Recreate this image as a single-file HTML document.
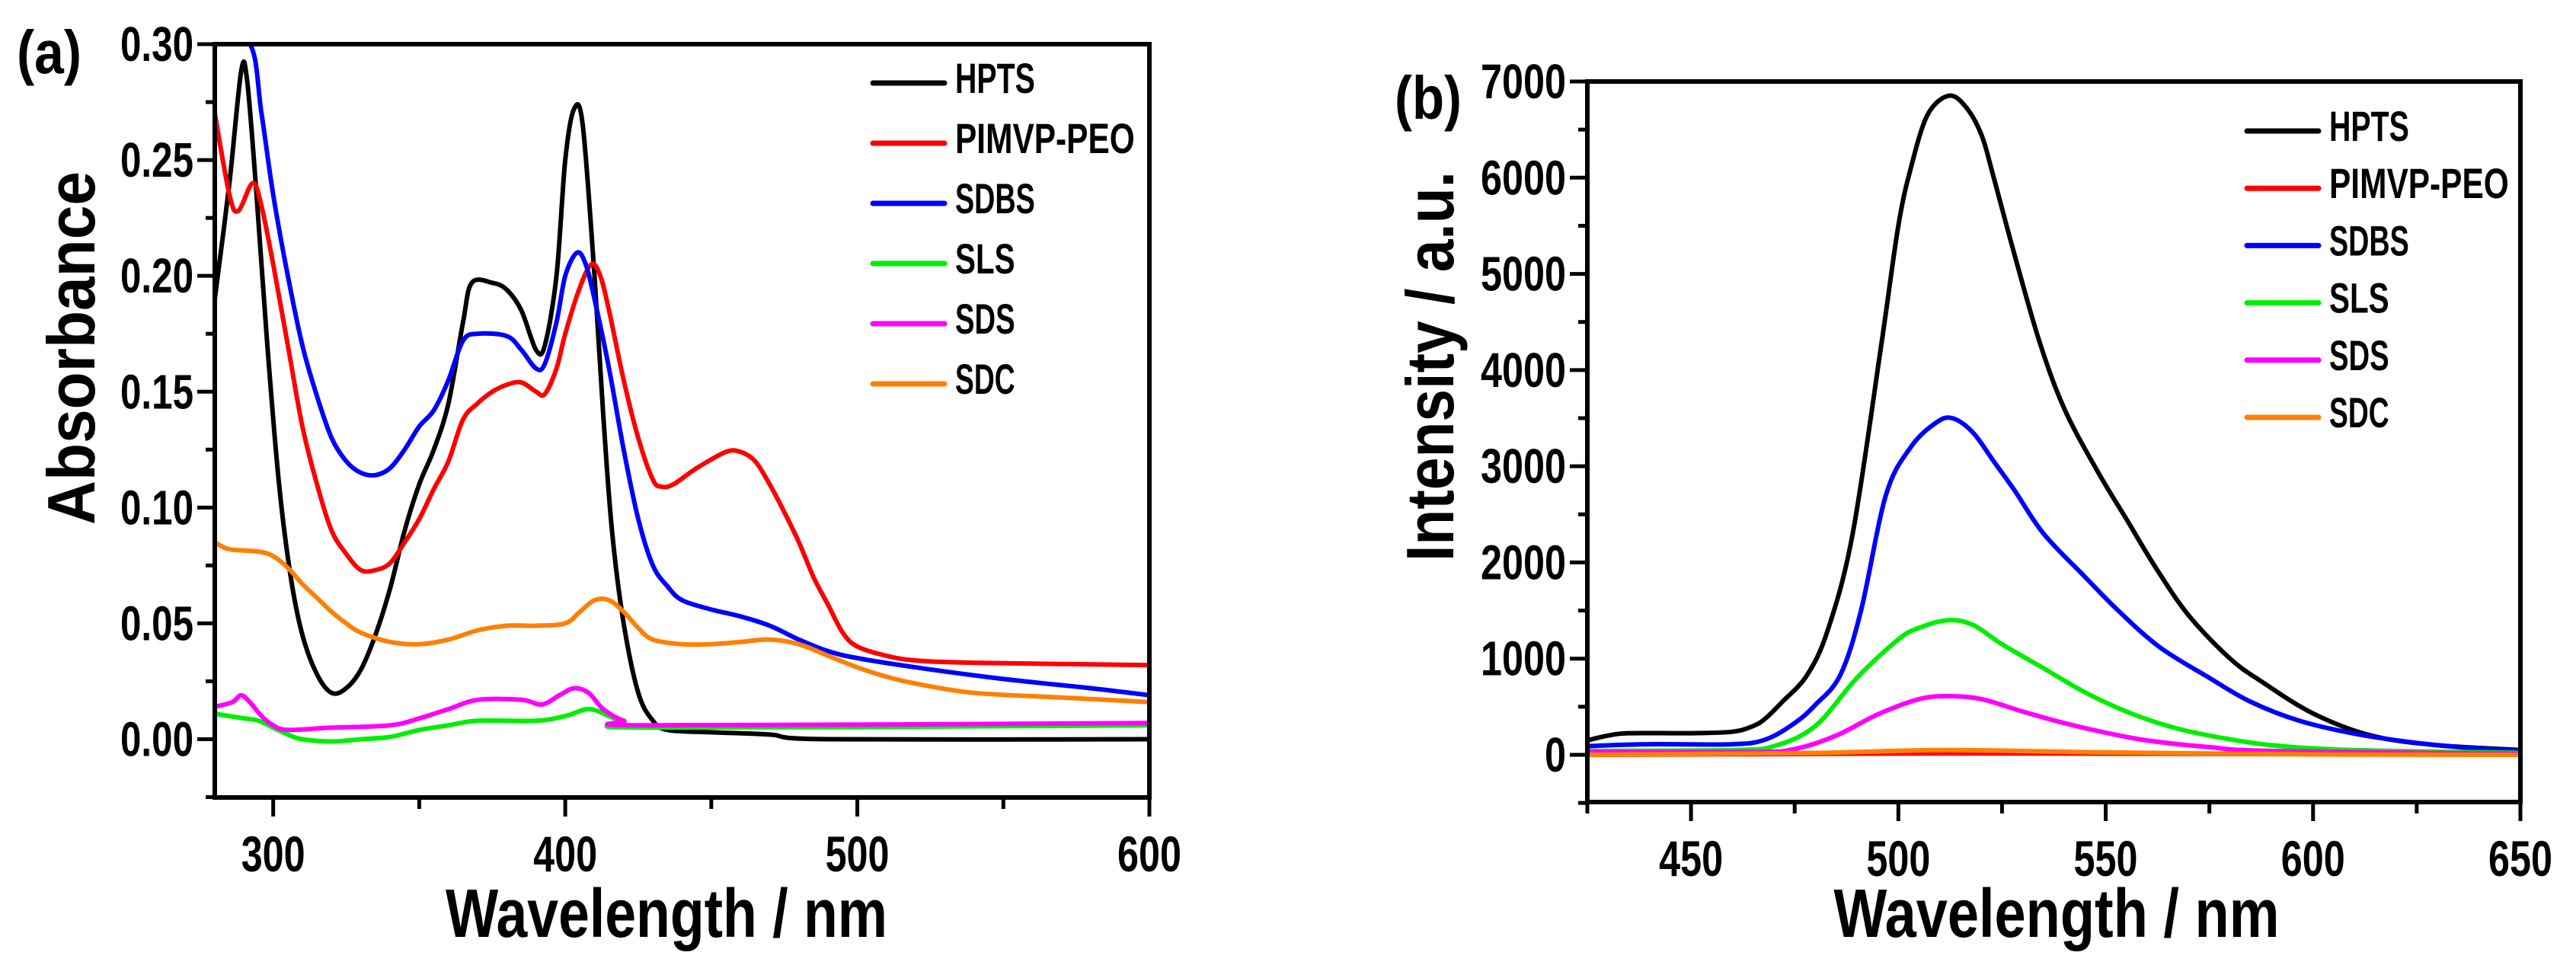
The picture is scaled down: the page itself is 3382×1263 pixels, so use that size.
<!DOCTYPE html>
<html><head><meta charset="utf-8"><style>
html,body{margin:0;padding:0;background:#fff;}
svg{display:block;}
text{font-family:"Liberation Sans",sans-serif;font-weight:bold;fill:#000;}
</style></head>
<body>
<svg id="fig" width="3382" height="1263" viewBox="0 0 3382 1263" xmlns="http://www.w3.org/2000/svg"></svg>
<script>
// ---------- Panel (a) data: absorbance ----------
const aHPTSx=[280,285,289,291,294,298,302,306,310,315,320,325,330,335,340,345,350,355,360,365,368,375,380,385,390,393,397,400,403,406,410,413,416,420,425,430,435,450,470,490,600];
const aHPTSy=[0.19,0.24,0.288,0.285,0.24,0.17,0.11,0.07,0.045,0.028,0.02,0.022,0.03,0.045,0.065,0.09,0.11,0.125,0.145,0.18,0.197,0.197,0.194,0.185,0.168,0.17,0.2,0.25,0.272,0.265,0.2,0.14,0.09,0.05,0.02,0.008,0.004,0.003,0.002,0,0];
const aPEOx=[280,285,288,293,296,300,305,310,315,320,325,330,335,340,345,350,355,360,365,370,375,380,385,390,393,397,400,405,409,412,415,420,425,430,433,437,445,455,460,465,470,475,480,485,490,495,500,510,520,540,600];
const aPEOy=[0.27,0.235,0.228,0.24,0.23,0.205,0.17,0.135,0.11,0.09,0.08,0.073,0.073,0.076,0.085,0.095,0.108,0.12,0.138,0.145,0.15,0.153,0.154,0.15,0.149,0.16,0.175,0.195,0.205,0.2,0.185,0.155,0.13,0.112,0.109,0.11,0.117,0.124,0.124,0.12,0.11,0.098,0.085,0.07,0.058,0.046,0.04,0.036,0.034,0.033,0.032];
const aSDBSx=[280,292,296,300,305,310,315,320,325,330,335,340,345,350,355,360,365,370,380,385,390,393,397,400,404,407,410,415,420,425,430,435,440,450,460,470,480,490,500,520,550,580,600];
const aSDBSy=[0.30,0.30,0.27,0.235,0.2,0.17,0.148,0.13,0.12,0.115,0.114,0.117,0.125,0.135,0.142,0.155,0.172,0.175,0.174,0.168,0.16,0.162,0.18,0.2,0.21,0.205,0.19,0.16,0.125,0.095,0.075,0.066,0.06,0.056,0.053,0.049,0.043,0.038,0.035,0.031,0.026,0.022,0.019];
const aSLSx=[280,290,295,300,305,310,320,330,340,350,360,370,390,400,408,415,420,430,600];
const aSLSy=[0.011,0.009,0.008,0.005,0.002,0,-0.001,0,0.001,0.004,0.006,0.008,0.008,0.01,0.013,0.01,0.007,0.005,0.006];
const aSDSx=[280,286,289,292,296,300,305,320,340,350,360,370,385,392,398,403,408,413,420,430,600];
const aSDSy=[0.014,0.016,0.019,0.016,0.01,0.006,0.004,0.005,0.006,0.009,0.013,0.017,0.017,0.015,0.019,0.022,0.02,0.013,0.008,0.006,0.007];
const aSDCx=[280,285,295,300,305,310,315,320,325,330,340,350,360,370,380,390,400,405,410,415,420,425,430,440,450,460,470,480,490,500,510,520,540,570,600];
const aSDCy=[0.085,0.082,0.081,0.079,0.074,0.067,0.061,0.055,0.05,0.046,0.042,0.041,0.043,0.047,0.049,0.049,0.05,0.055,0.06,0.06,0.055,0.048,0.043,0.041,0.041,0.042,0.043,0.041,0.036,0.031,0.027,0.024,0.02,0.018,0.016];
const aYTicks=["0.00","0.05","0.10","0.15","0.20","0.25","0.30"];
const aYTickVals=[0,0.05,0.1,0.15,0.2,0.25,0.3];
const aXTicks=["300","400","500","600"];
const aXTickVals=[300,400,500,600];

// ---------- Panel (b) data: intensity ----------
const bHPTSx=[425,430,435,450,460,465,468,472,478,483,489,496,500,503,507,512,516,520,523,528,534,540,548,555,562,570,580,588,600,614,630,650];
const bHPTSy=[150,200,225,225,240,300,380,550,830,1300,2300,4300,5500,6100,6650,6850,6750,6450,6000,5200,4300,3600,2950,2450,1950,1450,1000,750,430,200,100,50];
const bSDBSx=[425,440,460,468,475,480,486,491,497,503,509,513,518,523,528,535,545,553,563,575,585,597,610,622,635,650];
const bSDBSy=[90,110,110,160,330,520,830,1500,2700,3200,3450,3500,3350,3050,2750,2300,1850,1500,1120,800,550,350,220,140,80,40];
const bSLSx=[425,460,470,480,490,500,505,512,518,525,535,545,555,565,575,590,610,650];
const bSLSy=[40,50,90,300,800,1200,1320,1400,1350,1150,900,650,450,300,200,100,50,20];
const bSDSx=[425,465,475,485,495,505,512,520,530,540,550,560,575,590,650];
const bSDSy=[30,30,60,200,420,580,610,580,450,330,230,150,80,40,10];
const bSDCx=[425,480,512,550,600,650];
const bSDCy=[0,20,50,25,5,0];
const bPEOx=[425,512,650];
const bPEOy=[0,15,0];
const bYTicks=["0","1000","2000","3000","4000","5000","6000","7000"];
const bYTickVals=[0,1000,2000,3000,4000,5000,6000,7000];
const bXTicks=["450","500","550","600","650"];
const bXTickVals=[450,500,550,600,650];

const legendNames=["HPTS","PIMVP-PEO","SDBS","SLS","SDS","SDC"];
const colors=["#000000","#ff0000","#0000ff","#00ee00","#ff00ff","#ff8000"];

const NS="http://www.w3.org/2000/svg";
const svg=document.getElementById('fig');
function mk(tag,attrs,parent){const e=document.createElementNS(NS,tag);for(const k in attrs)e.setAttribute(k,attrs[k]);(parent||svg).appendChild(e);return e;}
function txt(s,attrs,parent){const e=mk('text',attrs,parent);e.textContent=s;return e;}
function smooth(pts){
  let d='M'+pts[0][0].toFixed(1)+','+pts[0][1].toFixed(1);
  for(let i=0;i<pts.length-1;i++){
    const p0=pts[Math.max(0,i-1)],p1=pts[i],p2=pts[i+1],p3=pts[Math.min(pts.length-1,i+2)];
    const c1x=p1[0]+(p2[0]-p0[0])/6,c1y=p1[1]+(p2[1]-p0[1])/6;
    const c2x=p2[0]-(p3[0]-p1[0])/6,c2y=p2[1]-(p3[1]-p1[1])/6;
    d+='C'+c1x.toFixed(1)+','+c1y.toFixed(1)+' '+c2x.toFixed(1)+','+c2y.toFixed(1)+' '+p2[0].toFixed(1)+','+p2[1].toFixed(1);
  }
  return d;
}

function panel(cfg){
  const g=mk('g',{});
  
  
  const X=v=>cfg.L+(v-cfg.x0)/(cfg.x1-cfg.x0)*(cfg.R-cfg.L);
  const Y=v=>cfg.B0+(v-cfg.yb)/(cfg.yt-cfg.yb)*(cfg.T-cfg.B0);
  const cid=cfg.name+'-clip';
  const cp=mk('clipPath',{id:cid},g);
  mk('rect',{x:cfg.L,y:cfg.T,width:cfg.R-cfg.L,height:cfg.B-cfg.T},cp);
  cfg.series.forEach((s,i)=>{
    const pts=s.x.map((xv,j)=>[X(xv),Y(s.y[j])]);
    const p=mk('path',{d:smooth(pts),fill:'none',stroke:colors[s.c],'stroke-width':6,'stroke-linejoin':'round','clip-path':'url(#'+cid+')'},g);
    
    
  });
  const fr=mk('rect',{x:cfg.L,y:cfg.T,width:cfg.R-cfg.L,height:cfg.B-cfg.T,fill:'none',stroke:'#000','stroke-width':6},g);
  
  
  for(let k=0;k<cfg.yMinor.length;k++){
    const v=cfg.yMinor[k];const y=Y(v);
    const major=cfg.yVals.some(t=>Math.abs(t-v)<1e-9);
    mk('line',{x1:cfg.L-(major?23:12),x2:cfg.L,y1:y,y2:y,stroke:'#000','stroke-width':5},g);
  }
  cfg.yVals.forEach((v,i)=>{
    const t=txt(cfg.yLabels[i],{x:cfg.L-28,y:Y(v)+22,'font-size':64,'text-anchor':'end',textLength:cfg.yLabels[i].length*cfg.yCharW,lengthAdjust:'spacingAndGlyphs'},g);
    
    
  });
  for(let k=0;k<cfg.xMinor.length;k++){
    const v=cfg.xMinor[k];const x=X(v);
    const major=cfg.xVals.some(t=>Math.abs(t-v)<1e-9);
    mk('line',{x1:x,x2:x,y1:cfg.B,y2:cfg.B+(major?25:15),stroke:'#000','stroke-width':5},g);
  }
  cfg.xVals.forEach((v,i)=>{
    const t=txt(cfg.xLabels[i],{x:X(v),y:cfg.B+97,'font-size':66,'text-anchor':'middle',textLength:84,lengthAdjust:'spacingAndGlyphs'},g);
    
    
  });
  const xt=txt('Wavelength / nm',{x:cfg.xtX,y:1230,'font-size':90,'text-anchor':'middle',textLength:cfg.xtW,lengthAdjust:'spacingAndGlyphs'},g);
  
  
  const yt=txt(cfg.yTitle,{x:0,y:0,'font-size':88,'text-anchor':'middle',textLength:cfg.ytW,lengthAdjust:'spacingAndGlyphs',transform:'translate('+cfg.ytX+','+cfg.ytY+') rotate(-90)'},g);
  
  
  const pl=txt(cfg.tag,{x:cfg.tagX,y:cfg.tagY,'font-size':80,textLength:cfg.tagW,lengthAdjust:'spacingAndGlyphs'},g);
  
  
  legendNames.forEach((n,i)=>{
    const ly=cfg.legY0+i*cfg.legDy;
    const ln=mk('line',{x1:cfg.legX,x2:cfg.legX+94,y1:ly,y2:ly,stroke:colors[i],'stroke-width':7,'stroke-linecap':'round'},g);
    
    
    const lt=txt(n,{x:cfg.legX+108,y:ly+13,'font-size':56,textLength:n.length*cfg.legCharW,lengthAdjust:'spacingAndGlyphs'},g);
    
    
  });
}

const aMinorY=[];for(let v=-0.025;v<=0.3001;v+=0.025)aMinorY.push(Math.round(v*1000)/1000);
const aMinorX=[];for(let v=300;v<=600;v+=50)aMinorX.push(v);
panel({name:'panel-a',L:282,R:1509,T:58,B:1047,x0:280,x1:600,yb:0,yt:0.3,B0:970.5,
  series:[{x:aHPTSx,y:aHPTSy,c:0},{x:aPEOx,y:aPEOy,c:1},{x:aSDBSx,y:aSDBSy,c:2},{x:aSLSx,y:aSLSy,c:3},{x:aSDSx,y:aSDSy,c:4},{x:aSDCx,y:aSDCy,c:5}],
  yMinor:aMinorY,yVals:aYTickVals,yLabels:aYTicks,yCharW:24,xMinor:aMinorX,xVals:aXTickVals,xLabels:aXTicks,
  xtX:875,xtW:580,yTitle:'Absorbance',ytX:124,ytY:457,ytW:464,tag:'(a)',tagX:22,tagY:96,tagW:85,
  legX:1146,legY0:109,legDy:79,legCharW:26.2});

const bMinorY=[];for(let v=-500;v<=7000;v+=500)bMinorY.push(v);
const bMinorX=[];for(let v=425;v<=650;v+=25)bMinorX.push(v);
panel({name:'panel-b',L:2084,R:3309,T:107,B:1053,x0:425,x1:650,yb:0,yt:7000,B0:991,
  series:[{x:bHPTSx,y:bHPTSy,c:0},{x:bSDBSx,y:bSDBSy,c:2},{x:bSLSx,y:bSLSy,c:3},{x:bSDSx,y:bSDSy,c:4},{x:bPEOx,y:bPEOy,c:1},{x:bSDCx,y:bSDCy,c:5}],
  yMinor:bMinorY,yVals:bYTickVals,yLabels:bYTicks,yCharW:28,xMinor:bMinorX,xVals:bXTickVals,xLabels:bXTicks,
  xtX:2700,xtW:585,yTitle:'Intensity / a.u.',ytX:1908,ytY:481,ytW:512,tag:'(b)',tagX:1831,tagY:156,tagW:88,
  legX:2950,legY0:172,legDy:75.2,legCharW:26.2});
</script>
</body></html>
